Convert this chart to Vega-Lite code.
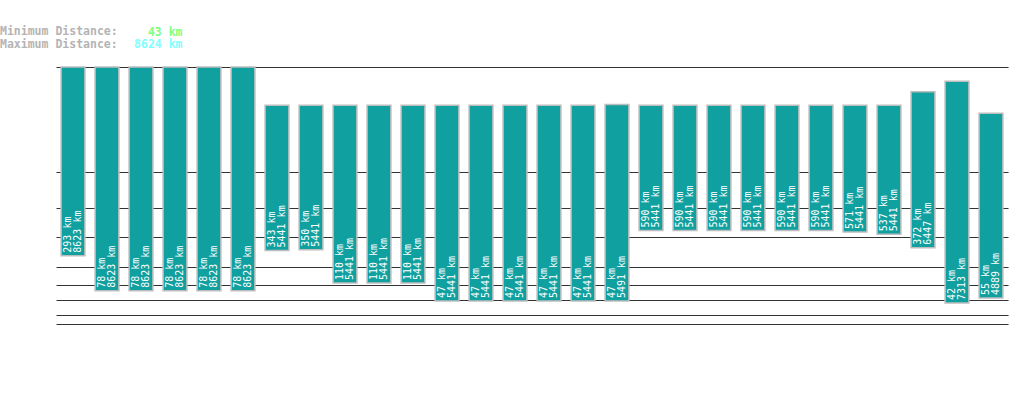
{
  "$schema": "https://vega.github.io/schema/vega-lite/v6.json",
  "description": "Minimum and maximum distance per item, floating bars on a power scale",
  "autosize": "none",
  "padding": {"left": 56, "top": 67, "right": 11, "bottom": 39},
  "width": 952,
  "height": 296,
  "background": "white",
  "title": {
    "text": "Minimum Distance:",
    "subtitle": "Maximum Distance:",
    "anchor": "start",
    "frame": "group",
    "dx": -56,
    "dy": 41,
    "offset": 17,
    "font": "DejaVu Sans Mono",
    "fontSize": 11.5,
    "fontWeight": "bold",
    "color": "#b4b4b4",
    "subtitleFont": "DejaVu Sans Mono",
    "subtitleFontSize": 11.5,
    "subtitleFontWeight": "bold",
    "subtitleColor": "#b4b4b4",
    "subtitlePadding": 1
  },
  "config": {
    "view": {"stroke": null},
    "axis": {"titleFont": "DejaVu Sans Mono", "titleFontSize": 11.5, "titleFontWeight": "bold"}
  },
  "data": {
    "values": [
      {"bar": 1, "min": 293, "max": 8623},
      {"bar": 2, "min": 78, "max": 8623},
      {"bar": 3, "min": 78, "max": 8623},
      {"bar": 4, "min": 78, "max": 8623},
      {"bar": 5, "min": 78, "max": 8623},
      {"bar": 6, "min": 78, "max": 8623},
      {"bar": 7, "min": 343, "max": 5441},
      {"bar": 8, "min": 350, "max": 5441},
      {"bar": 9, "min": 110, "max": 5441},
      {"bar": 10, "min": 110, "max": 5441},
      {"bar": 11, "min": 110, "max": 5441},
      {"bar": 12, "min": 47, "max": 5441},
      {"bar": 13, "min": 47, "max": 5441},
      {"bar": 14, "min": 47, "max": 5441},
      {"bar": 15, "min": 47, "max": 5441},
      {"bar": 16, "min": 47, "max": 5441},
      {"bar": 17, "min": 47, "max": 5491},
      {"bar": 18, "min": 590, "max": 5441},
      {"bar": 19, "min": 590, "max": 5441},
      {"bar": 20, "min": 590, "max": 5441},
      {"bar": 21, "min": 590, "max": 5441},
      {"bar": 22, "min": 590, "max": 5441},
      {"bar": 23, "min": 590, "max": 5441},
      {"bar": 24, "min": 571, "max": 5441},
      {"bar": 25, "min": 537, "max": 5441},
      {"bar": 26, "min": 372, "max": 6447},
      {"bar": 27, "min": 42, "max": 7313},
      {"bar": 28, "min": 55, "max": 4889}
    ]
  },
  "transform": [
    {"calculate": "[pad(datum.min + ' km', 7, '\u00a0', 'right'), pad(datum.max + ' km', 7, '\u00a0', 'right')]", "as": "label"}
  ],
  "encoding": {
    "x": {
      "field": "bar",
      "type": "ordinal",
      "scale": {"paddingInner": 0.3, "paddingOuter": 0.15},
      "axis": {
        "orient": "top",
        "labels": false,
        "ticks": false,
        "domain": false,
        "grid": false,
        "title": "43 km",
        "titleColor": "#80ff80",
        "titleAlign": "right",
        "titleBaseline": "alphabetic",
        "titleAngle": 0,
        "titleX": 126,
        "titleY": -32
      }
    }
  },
  "layer": [
    {
      "mark": {"type": "bar", "fill": "#11a0a0", "stroke": "#bdbdbd", "strokeWidth": 1.5},
      "encoding": {
        "y": {
          "field": "max",
          "type": "quantitative",
          "scale": {"type": "pow", "exponent": 0.3, "domain": [0, 8624], "nice": false},
          "axis": {
            "values": [10, 20, 50, 100, 200, 500, 1000, 2000, 8624],
            "tickCount": 20,
            "labels": false,
            "ticks": false,
            "domain": false,
            "grid": true,
            "gridColor": "#333333",
            "gridOpacity": 1,
            "gridWidth": 1.2,
            "title": "8624 km",
            "titleColor": "#80ffff",
            "titleAngle": 0,
            "titleAlign": "right",
            "titleBaseline": "alphabetic",
            "titleX": 126,
            "titleY": -20
          }
        },
        "y2": {"field": "min"}
      }
    },
    {
      "mark": {
        "type": "text",
        "angle": 270,
        "align": "left",
        "baseline": "middle",
        "dx": 3,
        "dy": -5.25,
        "lineHeight": 10.5,
        "font": "DejaVu Sans Mono",
        "fontSize": 10,
        "color": "white"
      },
      "encoding": {
        "y": {"field": "min", "type": "quantitative"},
        "text": {"field": "label"}
      }
    }
  ]
}
